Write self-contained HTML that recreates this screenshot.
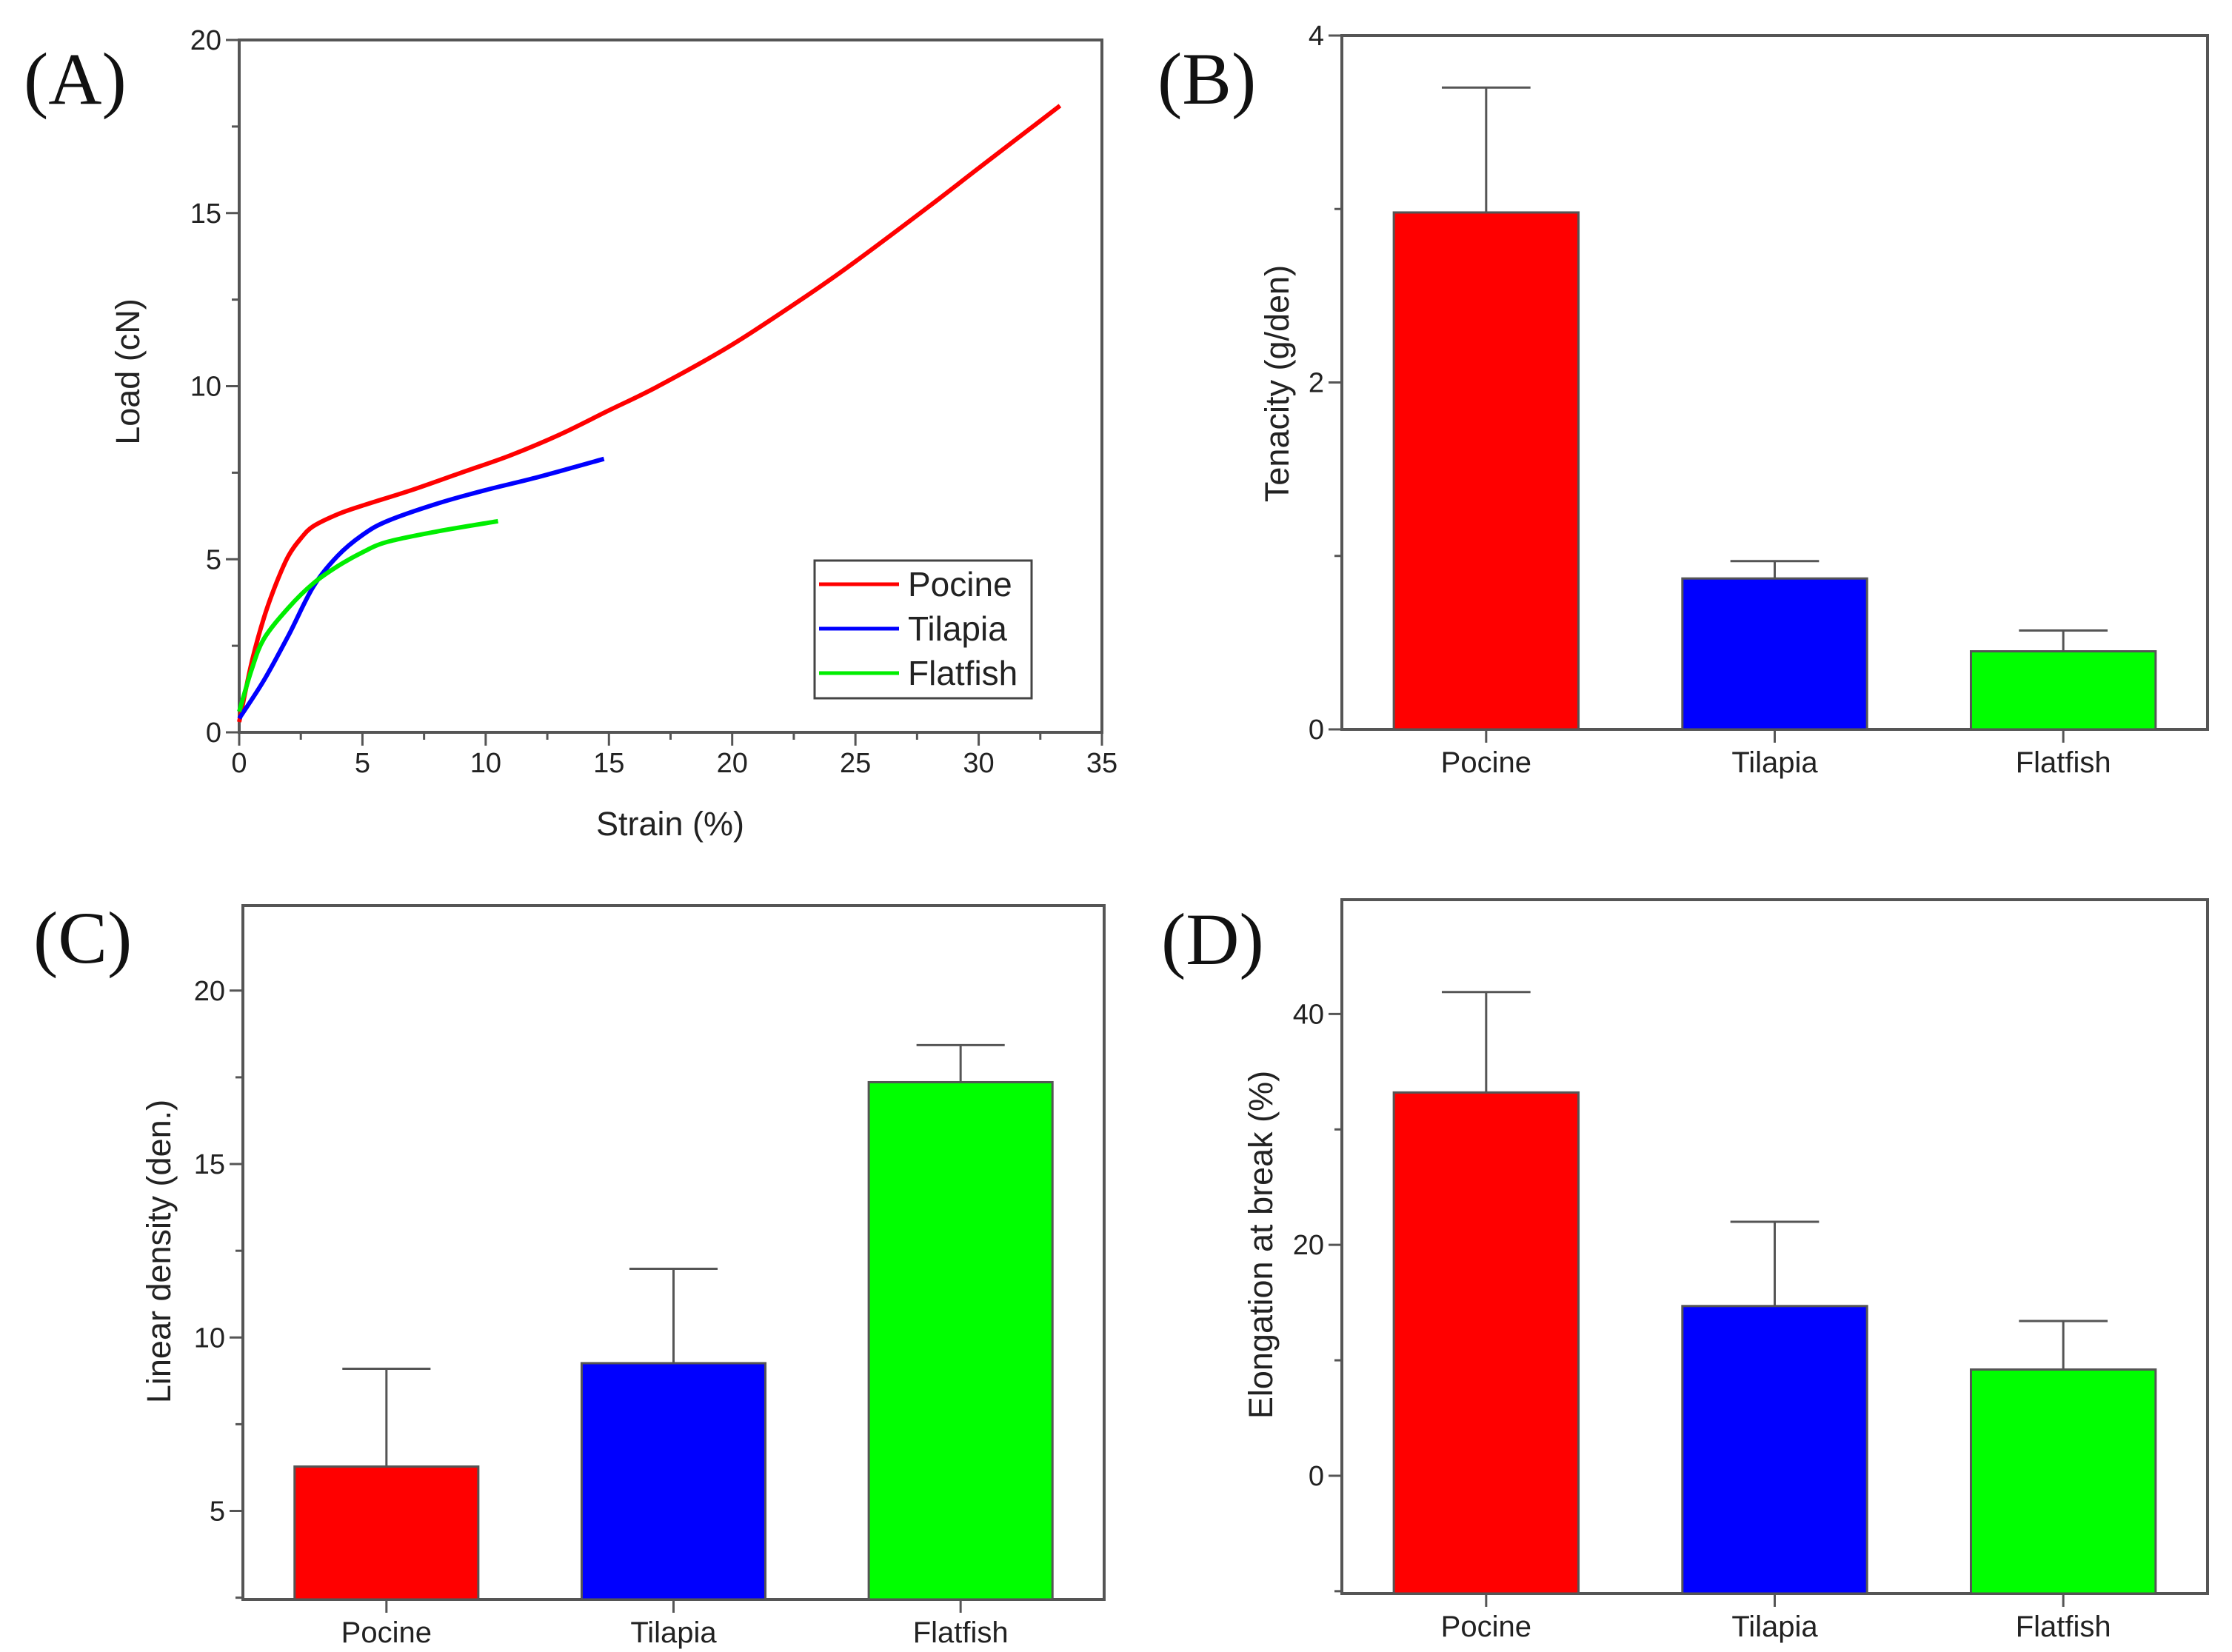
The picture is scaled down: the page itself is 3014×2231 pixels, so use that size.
<!DOCTYPE html>
<html><head><meta charset="utf-8">
<style>
html,body{margin:0;padding:0;background:#fff;}
svg{display:block;}
text{font-family:"Liberation Sans",Arial,sans-serif;fill:#222;}
.pl{font-family:"Liberation Serif","Times New Roman",serif;font-size:100px;fill:#111;}
</style></head>
<body>
<svg id="fig" width="3014" height="2231" viewBox="0 0 3014 2231" xmlns="http://www.w3.org/2000/svg">
<rect width="3014" height="2231" fill="#fff"/>
<text class="pl" x="32" y="140">(A)</text>
<text class="pl" x="1563" y="140">(B)</text>
<text class="pl" x="45" y="1300">(C)</text>
<text class="pl" x="1568" y="1302">(D)</text>
</svg>
<script>
// Panel A data
const pocineX=[0,0.5,1,1.5,2,2.5,3,4,5,7,9,11,13,15,17,20,23,25,28,30,33.3];
const pocineY=[0.3,2,3.3,4.3,5.1,5.6,5.95,6.3,6.55,7,7.5,8,8.6,9.3,10,11.2,12.6,13.6,15.2,16.3,18.1];
const tilapiaX=[0,1,2,3,4,5,6,8,10,12,14.8];
const tilapiaY=[0.4,1.5,2.8,4.2,5.1,5.7,6.1,6.6,7.0,7.35,7.9];
const flatfishX=[0,0.5,1,2,3,4,5,6,8,10.5];
const flatfishY=[0.6,1.8,2.7,3.6,4.3,4.8,5.2,5.5,5.8,6.1];
const xTicksA=[0,5,10,15,20,25,30,35];
const yTicksA=[0,5,10,15,20];
// Bar panels
const categories=["Pocine","Tilapia","Flatfish"];
const tenacity=[2.98,0.87,0.45];
const tenacityErr=[0.72,0.1,0.12];
const yTicksB=[0,2,4];
const density=[6.28,9.26,17.36];
const densityErr=[2.82,2.72,1.07];
const yTicksC=[5,10,15,20];
const elongation=[33.2,14.7,9.2];
const elongationErr=[8.7,7.3,4.2];
const yTicksD=[0,20,40];

const NS="http://www.w3.org/2000/svg";
const svg=document.getElementById('fig');
function mk(tag,attrs,parent){const e=document.createElementNS(NS,tag);for(const k in attrs)e.setAttribute(k,attrs[k]);(parent||svg).appendChild(e);return e;}
const AX="#555";

function frame(L,T,R,B,name){
  const g=mk('g',{});
  
  
  mk('rect',{x:L,y:T,width:R-L,height:B-T,fill:'none',stroke:AX,'stroke-width':4},g);
  return g;
}
function ytick(g,L,y,label,major){
  const t=mk('line',{x1:L-(major?18:10),x2:L,y1:y,y2:y,stroke:AX,'stroke-width':3},g);
  
  
  if(label!==null){
    const tx=mk('text',{x:L-24,y:y+13,'text-anchor':'end','font-size':38},g);
    tx.textContent=label;
    
    
  }
}
function ytitle(x,y,s,name){
  const t=mk('text',{x:x,y:y,'text-anchor':'middle','font-size':45,transform:`rotate(-90 ${x} ${y})`});
  t.textContent=s;
  
  
}
function smooth(pts){
  let d='M'+pts[0][0].toFixed(1)+','+pts[0][1].toFixed(1);
  for(let i=0;i<pts.length-1;i++){
    const p0=pts[Math.max(0,i-1)],p1=pts[i],p2=pts[i+1],p3=pts[Math.min(pts.length-1,i+2)];
    const c1=[p1[0]+(p2[0]-p0[0])/6,p1[1]+(p2[1]-p0[1])/6];
    const c2=[p2[0]-(p3[0]-p1[0])/6,p2[1]-(p3[1]-p1[1])/6];
    d+=` C${c1[0].toFixed(1)},${c1[1].toFixed(1)} ${c2[0].toFixed(1)},${c2[1].toFixed(1)} ${p2[0].toFixed(1)},${p2[1].toFixed(1)}`;
  }
  return d;
}

// ---------- Panel A ----------
(function(){
  const L=323,R=1488,T=54,B=989;
  const sx=v=>L+(v/35)*(R-L), sy=v=>B-(v/20)*(B-T);
  const g=frame(L,T,R,B,'panel-a-axes');
  for(let v=0;v<=20;v+=2.5){const maj=yTicksA.includes(v);ytick(g,L,sy(v),maj?String(v):null,maj);}
  for(let v=0;v<=35;v+=2.5){
    const maj=xTicksA.includes(v);
    const t=mk('line',{x1:sx(v),x2:sx(v),y1:B,y2:B+(maj?18:10),stroke:AX,'stroke-width':3},g);
    
    
    if(maj){const tx=mk('text',{x:sx(v),y:B+54,'text-anchor':'middle','font-size':38},g);tx.textContent=v;
      
      }
  }
  const xt=mk('text',{x:905,y:1128,'text-anchor':'middle','font-size':45});xt.textContent='Strain (%)';
  
  
  ytitle(188,502,'Load (cN)','y-axis-title-a');
  const series=[[pocineX,pocineY,'#ff0000','pocine-line'],[tilapiaX,tilapiaY,'#0000ff','tilapia-line'],[flatfishX,flatfishY,'#00ee00','flatfish-line']];
  series.forEach(([xs,ys,c,n])=>{
    const d=smooth(xs.map((x,i)=>[sx(x),sy(ys[i])]));
    const p=mk('path',{d:d,fill:'none',stroke:c,'stroke-width':6,'stroke-linejoin':'round'});
    
    
  });
  const lg=mk('g',{});
  
  
  mk('rect',{x:1100,y:757,width:293,height:186,fill:'#fff',stroke:'#444','stroke-width':3},lg);
  [['Pocine','#ff0000'],['Tilapia','#0000ff'],['Flatfish','#00ee00']].forEach(([n,c],i)=>{
    const y=789+i*60;
    const ln=mk('line',{x1:1106,x2:1214,y1:y,y2:y,stroke:c,'stroke-width':5},lg);
    
    
    const t=mk('text',{x:1226,y:y+16,'font-size':46,fill:'#111'},lg);t.textContent=n;
    
    
  });
})();

// ---------- Bar panels ----------
function barPanel(o){
  const {L,R,T,B,min,max,vals,errs,ticks,minorStep,title,tx,ty,key}=o;
  const sy=v=>B-(v-min)/(max-min)*(B-T);
  const g=frame(L,T,R,B,'panel-'+key+'-axes');
  const start=Math.ceil(min/minorStep)*minorStep;
  for(let v=start;v<=max+1e-9;v+=minorStep){const maj=ticks.includes(v);ytick(g,L,sy(v),maj?String(v):null,maj);}
  const slot=(R-L)/3, bw=slot*0.64;
  const colors=['#ff0000','#0000ff','#00ff00'];
  categories.forEach((c,i)=>{
    const cx=L+slot*(i+0.5);
    const top=sy(vals[i]);
    const base=B;
    const r=mk('rect',{x:cx-bw/2,y:top,width:bw,height:base-top,fill:colors[i],stroke:'#555','stroke-width':3});
    
    
    const ey=sy(vals[i]+errs[i]);
    const e=mk('path',{d:`M${cx},${top} L${cx},${ey} M${cx-bw*0.24},${ey} L${cx+bw*0.24},${ey}`,stroke:'#555','stroke-width':3,fill:'none'});
    
    
    const tk=mk('line',{x1:cx,x2:cx,y1:B,y2:B+18,stroke:AX,'stroke-width':3});
    
    
    const t=mk('text',{x:cx,y:B+58,'text-anchor':'middle','font-size':40});t.textContent=c;
    
    
  });
  ytitle(tx,ty,title,'y-axis-title-'+key);
}
barPanel({L:1812,R:2981,T:48,B:985,min:0,max:4,vals:tenacity,errs:tenacityErr,ticks:yTicksB,minorStep:1,title:'Tenacity (g/den)',tx:1740,ty:518,key:'b'});
barPanel({L:328,R:1491,T:1223,B:2160,min:2.45,max:22.45,vals:density,errs:densityErr,ticks:yTicksC,minorStep:2.5,title:'Linear density (den.)',tx:230,ty:1690,key:'c'});
barPanel({L:1812,R:2981,T:1215,B:2152,min:-10.2,max:49.9,vals:elongation,errs:elongationErr,ticks:yTicksD,minorStep:10,title:'Elongation at break (%)',tx:1718,ty:1681,key:'d'});
</script>
</body></html>
